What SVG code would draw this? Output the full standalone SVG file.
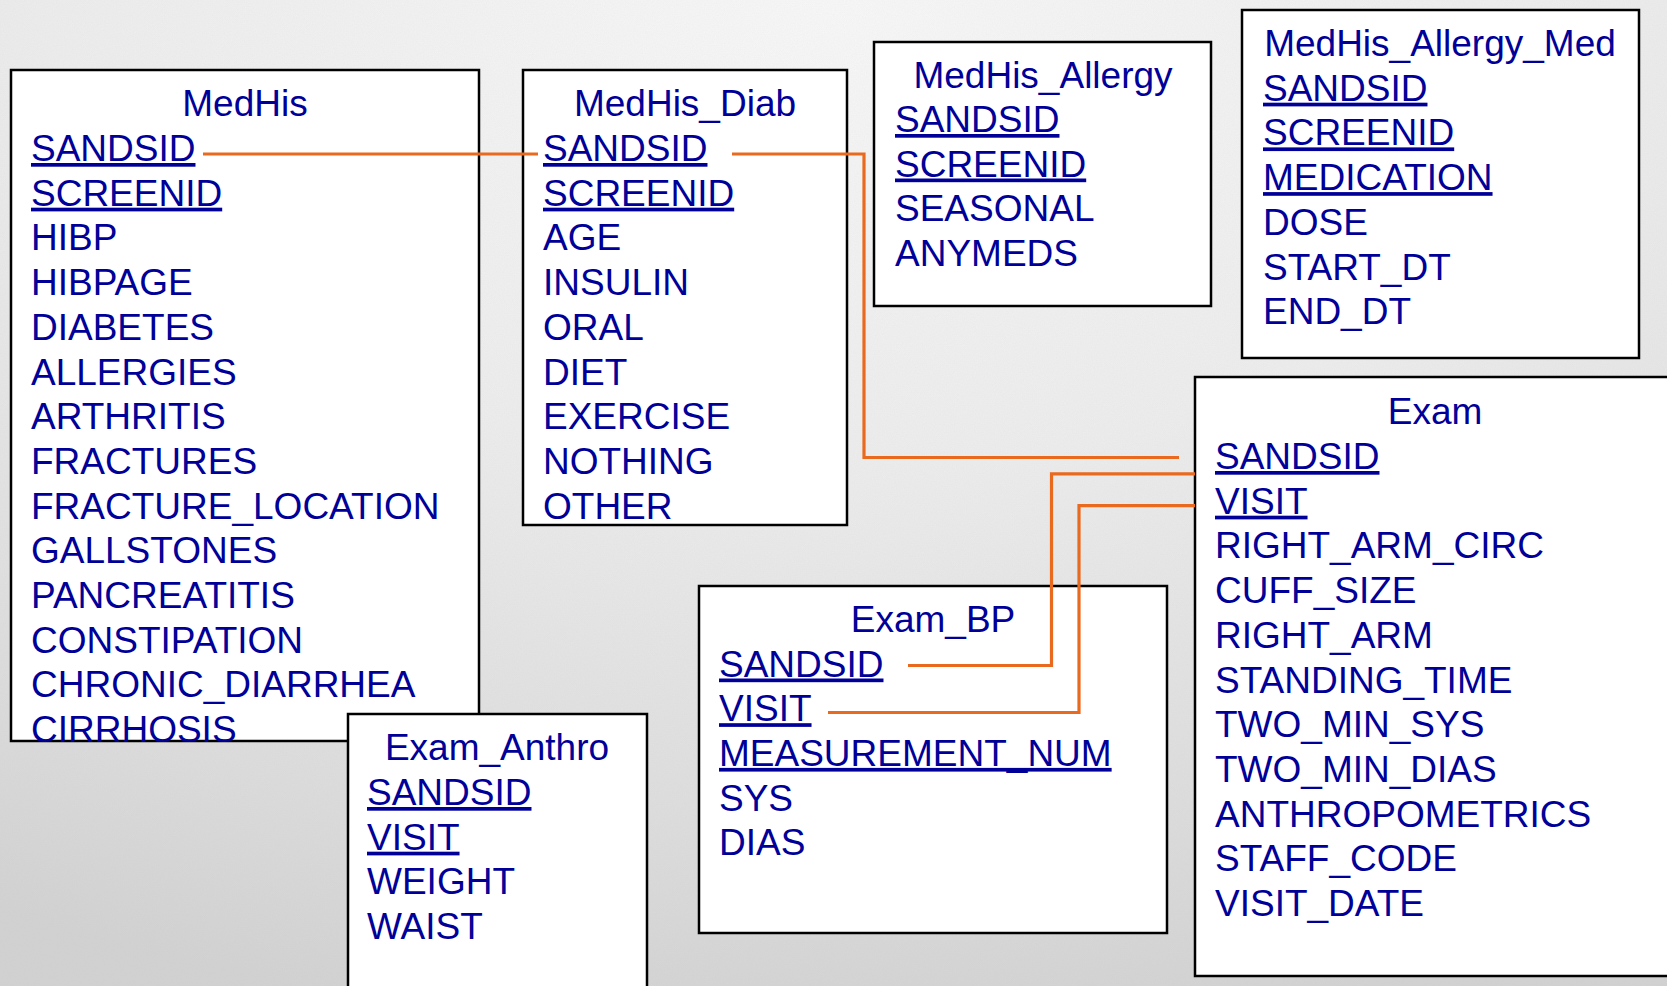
<svg xmlns="http://www.w3.org/2000/svg" width="1667" height="986" viewBox="0 0 1667 986">
<defs>
<radialGradient id="bg" cx="0.5" cy="0" r="1.05">
<stop offset="0" stop-color="#f8f8f8"/>
<stop offset="0.45" stop-color="#ededed"/>
<stop offset="0.8" stop-color="#dddddd"/>
<stop offset="1" stop-color="#d2d2d2"/>
</radialGradient>
<filter id="grain" x="0" y="0" width="100%" height="100%">
<feTurbulence type="fractalNoise" baseFrequency="0.9" numOctaves="2" seed="3"/>
<feColorMatrix type="matrix" values="0 0 0 0 0.5  0 0 0 0 0.5  0 0 0 0 0.5  0 0 0 0.12 0"/>
</filter>
<style>
.box{fill:#ffffff;stroke:#000000;stroke-width:2.5}
.t{font-family:"Liberation Sans",Arial,Helvetica,sans-serif;font-size:37px;fill:#000099}
.ttl{text-anchor:middle}
.k{text-decoration:underline}
.conn{fill:none;stroke:#e96a1f;stroke-width:3.2}
</style>
</defs>
<rect x="0" y="0" width="1667" height="986" fill="url(#bg)"/>
<rect x="0" y="0" width="1667" height="986" filter="url(#grain)"/>

<g id="MedHis">
<rect class="box" x="11" y="70" width="468" height="671"/>
<text class="t ttl" x="245" y="116">MedHis</text>
<text class="t k" x="31" y="161">SANDSID</text>
<text class="t k" x="31" y="205.7">SCREENID</text>
<text class="t" x="31" y="250.4">HIBP</text>
<text class="t" x="31" y="295.1">HIBPAGE</text>
<text class="t" x="31" y="339.8">DIABETES</text>
<text class="t" x="31" y="384.5">ALLERGIES</text>
<text class="t" x="31" y="429.2">ARTHRITIS</text>
<text class="t" x="31" y="473.9">FRACTURES</text>
<text class="t" x="31" y="518.6">FRACTURE_LOCATION</text>
<text class="t" x="31" y="563.3">GALLSTONES</text>
<text class="t" x="31" y="608">PANCREATITIS</text>
<text class="t" x="31" y="652.7">CONSTIPATION</text>
<text class="t" x="31" y="697.4">CHRONIC_DIARRHEA</text>
<text class="t" x="31" y="742">CIRRHOSIS</text>
</g>

<g id="MedHis_Diab">
<rect class="box" x="523" y="70" width="324" height="455"/>
<text class="t ttl" x="685" y="116">MedHis_Diab</text>
<text class="t k" x="543" y="161">SANDSID</text>
<text class="t k" x="543" y="205.7">SCREENID</text>
<text class="t" x="543" y="250.4">AGE</text>
<text class="t" x="543" y="295.1">INSULIN</text>
<text class="t" x="543" y="339.8">ORAL</text>
<text class="t" x="543" y="384.5">DIET</text>
<text class="t" x="543" y="429.2">EXERCISE</text>
<text class="t" x="543" y="473.9">NOTHING</text>
<text class="t" x="543" y="518.6">OTHER</text>
</g>

<g id="MedHis_Allergy">
<rect class="box" x="874" y="42" width="337" height="264"/>
<text class="t ttl" x="1043" y="88">MedHis_Allergy</text>
<text class="t k" x="895" y="132">SANDSID</text>
<text class="t k" x="895" y="176.5">SCREENID</text>
<text class="t" x="895" y="221">SEASONAL</text>
<text class="t" x="895" y="265.5">ANYMEDS</text>
</g>

<g id="MedHis_Allergy_Med">
<rect class="box" x="1242" y="10" width="397" height="348"/>
<text class="t ttl" x="1440" y="56">MedHis_Allergy_Med</text>
<text class="t k" x="1263" y="100.7">SANDSID</text>
<text class="t k" x="1263" y="145.4">SCREENID</text>
<text class="t k" x="1263" y="190.1">MEDICATION</text>
<text class="t" x="1263" y="234.8">DOSE</text>
<text class="t" x="1263" y="279.5">START_DT</text>
<text class="t" x="1263" y="324.2">END_DT</text>
</g>

<g id="Exam">
<rect class="box" x="1195" y="377" width="485" height="599"/>
<text class="t ttl" x="1435" y="424">Exam</text>
<text class="t k" x="1215" y="469">SANDSID</text>
<text class="t k" x="1215" y="513.7">VISIT</text>
<text class="t" x="1215" y="558.4">RIGHT_ARM_CIRC</text>
<text class="t" x="1215" y="603.1">CUFF_SIZE</text>
<text class="t" x="1215" y="647.8">RIGHT_ARM</text>
<text class="t" x="1215" y="692.5">STANDING_TIME</text>
<text class="t" x="1215" y="737.2">TWO_MIN_SYS</text>
<text class="t" x="1215" y="781.9">TWO_MIN_DIAS</text>
<text class="t" x="1215" y="826.6">ANTHROPOMETRICS</text>
<text class="t" x="1215" y="871.3">STAFF_CODE</text>
<text class="t" x="1215" y="916">VISIT_DATE</text>
</g>

<g id="Exam_BP">
<rect class="box" x="699" y="586" width="468" height="347"/>
<text class="t ttl" x="933" y="632">Exam_BP</text>
<text class="t k" x="719" y="676.5">SANDSID</text>
<text class="t k" x="719" y="721.2">VISIT</text>
<text class="t k" x="719" y="765.9">MEASUREMENT_NUM</text>
<text class="t" x="719" y="810.6">SYS</text>
<text class="t" x="719" y="855.3">DIAS</text>
</g>

<g id="Exam_Anthro">
<rect class="box" x="348" y="714" width="299" height="290"/>
<text class="t ttl" x="497" y="760">Exam_Anthro</text>
<text class="t k" x="367" y="805">SANDSID</text>
<text class="t k" x="367" y="849.7">VISIT</text>
<text class="t" x="367" y="894.4">WEIGHT</text>
<text class="t" x="367" y="939.1">WAIST</text>
</g>

<g id="connectors">
<path class="conn" d="M203 154 H538"/>
<path class="conn" d="M732 154 H864 V457.5 H1179"/>
<path class="conn" d="M1195 473.8 H1051.5 V665.5 H908"/>
<path class="conn" d="M1195 505.7 H1079 V712.5 H828"/>
</g>
</svg>
